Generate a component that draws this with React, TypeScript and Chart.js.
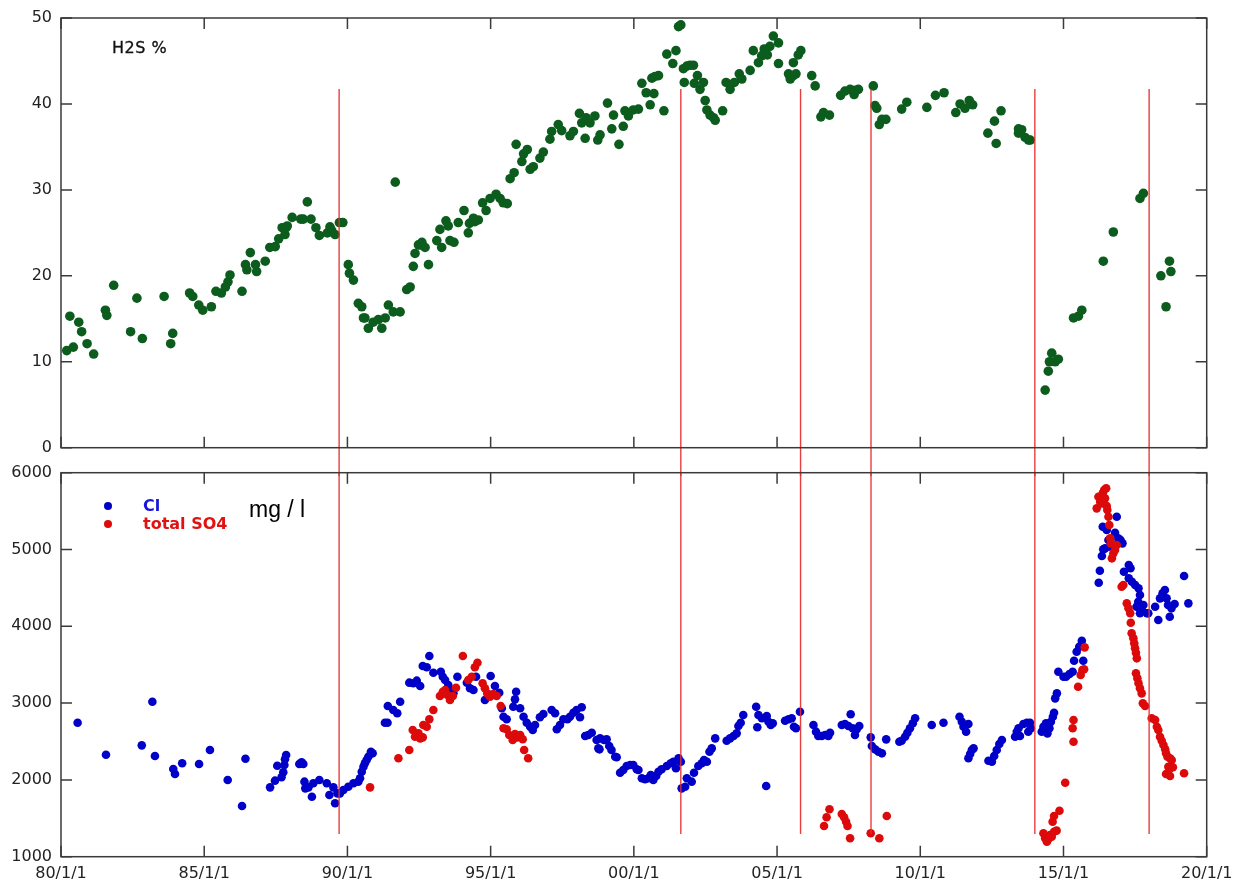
import React, { useEffect, useRef } from 'react';
import { Chart, registerables } from 'chart.js';

Chart.register(...registerables);

// ---------- data ----------
const xTickYears = [1980, 1985, 1990, 1995, 2000, 2005, 2010, 2015, 2020];
const xTickLabels = ['80/1/1', '85/1/1', '90/1/1', '95/1/1', '00/1/1', '05/1/1', '10/1/1', '15/1/1', '20/1/1'];
const h2sTicks = [0, 10, 20, 30, 40, 50];
const ionTicks = [1000, 2000, 3000, 4000, 5000, 6000];

// event dates (red vertical lines)
const eventYears = [1989.71, 2001.64, 2005.82, 2008.28, 2014.0, 2017.99];
const eventTopH2S = 41.75;
const eventGapH2S = -3.3;
const eventTopIon = 6000;
const eventBottomIon = 1295;

// H2S % [year, value]
const h2sPoints: [number, number][] = [
  [1980.2, 11.3], [1980.31, 15.3], [1980.43, 11.7], [1980.62, 14.6], [1980.72, 13.5], [1980.91, 12.1], [1981.14, 10.9],
  [1981.55, 16.0], [1981.6, 15.4], [1981.84, 18.9], [1982.43, 13.5], [1982.65, 17.4], [1982.84, 12.7], [1983.6, 17.6],
  [1983.83, 12.1], [1983.9, 13.3], [1984.49, 18.0], [1984.6, 17.6], [1984.81, 16.6], [1984.95, 16.0], [1985.25, 16.4],
  [1985.41, 18.2], [1985.6, 18.0], [1985.74, 18.7], [1985.83, 19.3], [1985.9, 20.1], [1986.32, 18.2], [1986.44, 21.3],
  [1986.49, 20.7], [1986.61, 22.7], [1986.79, 21.3], [1986.83, 20.5], [1987.13, 21.7], [1987.29, 23.3], [1987.48, 23.4],
  [1987.6, 24.3], [1987.72, 25.6], [1987.82, 24.8], [1987.86, 25.6], [1987.9, 25.8], [1988.07, 26.8], [1988.37, 26.6],
  [1988.46, 26.6], [1988.6, 28.6], [1988.73, 26.6], [1988.9, 25.6], [1989.02, 24.7], [1989.3, 25.0], [1989.39, 25.7],
  [1989.45, 25.3], [1989.57, 24.8], [1989.72, 26.2], [1989.84, 26.2], [1990.03, 21.3], [1990.07, 20.3], [1990.21, 19.5],
  [1990.38, 16.8], [1990.5, 16.4], [1990.56, 15.1], [1990.61, 15.1], [1990.73, 13.9], [1990.9, 14.6], [1991.08, 14.9],
  [1991.2, 13.9], [1991.32, 15.1], [1991.43, 16.6], [1991.6, 15.8], [1991.67, 30.9], [1991.84, 15.8], [1992.07, 18.4],
  [1992.19, 18.7], [1992.3, 21.1], [1992.36, 22.6], [1992.48, 23.6], [1992.54, 23.6], [1992.6, 23.9], [1992.71, 23.3],
  [1992.83, 21.3], [1993.12, 24.1], [1993.23, 25.4], [1993.29, 23.3], [1993.44, 26.4], [1993.52, 25.8], [1993.58, 24.1],
  [1993.72, 23.9], [1993.87, 26.2], [1994.07, 27.6], [1994.22, 25.0], [1994.26, 26.1], [1994.4, 26.7], [1994.45, 26.3],
  [1994.57, 26.5], [1994.72, 28.5], [1994.84, 27.6], [1994.98, 29.0], [1995.19, 29.5], [1995.33, 29.0], [1995.44, 28.5],
  [1995.58, 28.4], [1995.68, 31.3], [1995.82, 32.0], [1995.89, 35.3], [1996.09, 33.3], [1996.15, 34.2], [1996.28, 34.7],
  [1996.38, 32.4], [1996.49, 32.7], [1996.72, 33.7], [1996.84, 34.4], [1997.07, 35.9], [1997.13, 36.8], [1997.36, 37.6],
  [1997.48, 36.9], [1997.77, 36.3], [1997.89, 36.8], [1998.1, 38.9], [1998.18, 37.8], [1998.33, 38.4], [1998.47, 37.8],
  [1998.64, 38.6], [1998.3, 36.0], [1998.74, 35.8], [1998.82, 36.4], [1999.08, 40.1], [1999.29, 38.7], [1999.23, 37.1],
  [1999.48, 35.3], [1999.63, 37.4], [1999.69, 39.2], [1999.81, 38.6], [1999.98, 39.3], [2000.16, 39.4], [2000.28, 42.4],
  [2000.43, 41.3], [2000.57, 39.9], [2000.7, 41.2], [2000.63, 43.0], [2000.74, 43.2], [2000.86, 43.3], [2001.05, 39.2],
  [2001.15, 45.8], [2001.36, 44.7], [2001.47, 46.2], [2001.56, 49.0], [2001.64, 49.2], [2001.73, 44.1], [2001.85, 44.4],
  [2001.96, 44.5], [2002.08, 44.5], [2001.76, 42.5], [2002.11, 42.4], [2002.22, 43.3], [2002.31, 41.7], [2002.43, 42.5],
  [2002.49, 40.4], [2002.55, 39.3], [2002.66, 38.7], [2002.78, 38.4], [2002.84, 38.1], [2003.1, 39.2], [2003.22, 42.5],
  [2003.36, 41.7], [2003.51, 42.5], [2003.68, 43.5], [2003.77, 42.9], [2004.06, 43.9], [2004.17, 46.2], [2004.35, 44.8],
  [2004.46, 45.6], [2004.55, 46.4], [2004.66, 45.7], [2004.75, 46.7], [2004.87, 47.9], [2005.05, 47.1], [2005.05, 44.7],
  [2005.4, 43.5], [2005.46, 42.9], [2005.57, 43.3], [2005.66, 43.5], [2005.57, 44.8], [2005.74, 45.7], [2005.83, 46.2],
  [2006.21, 43.3], [2006.33, 42.1], [2006.53, 38.5], [2006.62, 39.0], [2006.83, 38.7], [2007.22, 41.0], [2007.37, 41.5],
  [2007.55, 41.7], [2007.69, 41.1], [2007.72, 41.6], [2007.84, 41.7], [2008.36, 42.1], [2008.42, 39.8], [2008.48, 39.5],
  [2008.57, 37.6], [2008.66, 38.2], [2008.8, 38.2], [2009.35, 39.4], [2009.53, 40.2], [2010.23, 39.6], [2010.53, 41.0],
  [2010.83, 41.3], [2011.24, 39.0], [2011.39, 40.0], [2011.56, 39.5], [2011.71, 40.4], [2011.83, 39.9], [2012.36, 36.6],
  [2012.59, 38.0], [2012.65, 35.4], [2012.82, 39.2], [2013.43, 37.1], [2013.43, 36.6], [2013.54, 37.0], [2013.66, 36.1],
  [2013.78, 35.8], [2013.84, 35.8], [2014.36, 6.7], [2014.47, 8.9], [2014.51, 10.0], [2014.59, 11.0], [2014.71, 10.0],
  [2014.82, 10.3], [2015.35, 15.1], [2015.52, 15.3], [2015.64, 16.0], [2016.39, 21.7], [2016.74, 25.1], [2017.67, 29.0],
  [2017.79, 29.6], [2018.4, 20.0], [2018.58, 16.4], [2018.7, 21.7], [2018.75, 20.5],
];

// Cl mg/l [year, value]
const clPoints: [number, number][] = [
  [1980.58, 2745], [1981.57, 2328], [1982.82, 2450], [1983.19, 3018], [1983.28, 2311], [1983.92, 2142], [1983.98, 2077],
  [1984.23, 2216], [1984.82, 2207], [1985.2, 2389], [1985.82, 1999], [1986.32, 1660], [1986.44, 2276], [1987.3, 1903],
  [1987.47, 1990], [1987.55, 2185], [1987.7, 2034], [1987.76, 2099], [1987.8, 2194], [1987.82, 2268], [1987.86, 2324],
  [1988.32, 2207], [1988.4, 2229], [1988.46, 2207], [1988.5, 1977], [1988.53, 1890], [1988.64, 1903], [1988.76, 1781],
  [1988.81, 1956], [1989.02, 1999], [1989.28, 1956], [1989.37, 1803], [1989.51, 1903], [1989.57, 1695], [1989.65, 1825],
  [1989.74, 1825], [1989.86, 1868], [1990.03, 1911], [1990.21, 1956], [1990.38, 1977], [1990.44, 2021], [1990.5, 2107],
  [1990.56, 2172], [1990.61, 2216], [1990.67, 2259], [1990.73, 2302], [1990.82, 2367], [1990.88, 2346], [1991.31, 2745],
  [1991.4, 2745], [1991.41, 2962], [1991.6, 2910], [1991.74, 2867], [1991.84, 3018], [1992.16, 3266], [1992.3, 3258],
  [1992.42, 3292], [1992.54, 3223], [1992.63, 3483], [1992.77, 3466], [1992.86, 3613], [1993.0, 3396], [1993.26, 3409],
  [1993.33, 3344], [1993.41, 3301], [1993.52, 3236], [1993.64, 3171], [1993.7, 3127], [1993.84, 3344], [1994.17, 3266],
  [1994.28, 3193], [1994.4, 3171], [1994.49, 3344], [1994.8, 3040], [1995.0, 3353], [1995.15, 3223], [1995.3, 3135],
  [1995.39, 2932], [1995.45, 2823], [1995.56, 2789], [1995.79, 2953], [1995.85, 3049], [1995.89, 3148], [1996.03, 2932],
  [1996.15, 2823], [1996.26, 2745], [1996.38, 2693], [1996.47, 2650], [1996.55, 2715], [1996.72, 2815], [1996.84, 2858],
  [1997.13, 2910], [1997.25, 2867], [1997.31, 2659], [1997.42, 2715], [1997.54, 2789], [1997.68, 2789], [1997.77, 2823],
  [1997.89, 2875], [1998.0, 2910], [1998.12, 2815], [1998.18, 2945], [1998.3, 2572], [1998.41, 2585], [1998.53, 2614],
  [1998.7, 2519], [1998.76, 2411], [1998.8, 2398], [1998.82, 2541], [1998.96, 2519], [1999.05, 2528], [1999.14, 2441],
  [1999.22, 2389], [1999.35, 2302], [1999.4, 2294], [1999.52, 2094], [1999.63, 2129], [1999.75, 2181], [1999.87, 2194],
  [1999.98, 2194], [2000.1, 2138], [2000.16, 2129], [2000.28, 2021], [2000.39, 2008], [2000.51, 2021], [2000.59, 2064],
  [2000.68, 1999], [2000.78, 2051], [2000.86, 2107], [2000.97, 2138], [2001.15, 2181], [2001.29, 2216], [2001.38, 2237],
  [2001.47, 2151], [2001.56, 2281], [2001.64, 2237], [2001.67, 1890], [2001.79, 1911], [2001.85, 2021], [2002.02, 1977],
  [2002.1, 2094], [2002.25, 2181], [2002.37, 2216], [2002.45, 2259], [2002.55, 2237], [2002.64, 2367], [2002.72, 2411],
  [2002.84, 2541], [2003.24, 2510], [2003.36, 2541], [2003.48, 2572], [2003.59, 2606], [2003.65, 2702], [2003.73, 2745],
  [2003.82, 2845], [2004.27, 2953], [2004.35, 2845], [2004.31, 2685], [2004.47, 2802], [2004.64, 2832], [2004.7, 2758],
  [2004.78, 2715], [2004.85, 2737], [2004.62, 1920], [2005.28, 2771], [2005.4, 2789], [2005.51, 2802], [2005.59, 2693],
  [2005.66, 2672], [2005.8, 2888], [2006.27, 2715], [2006.36, 2628], [2006.44, 2572], [2006.56, 2572], [2006.68, 2585],
  [2006.79, 2572], [2006.85, 2614], [2007.26, 2715], [2007.37, 2728], [2007.49, 2702], [2007.57, 2854], [2007.64, 2672],
  [2007.72, 2585], [2007.78, 2659], [2007.87, 2702], [2008.27, 2554], [2008.31, 2441], [2008.42, 2398], [2008.54, 2367],
  [2008.66, 2346], [2008.81, 2528], [2009.27, 2497], [2009.35, 2510], [2009.47, 2562], [2009.55, 2614], [2009.64, 2672],
  [2009.74, 2737], [2009.82, 2802], [2010.4, 2715], [2010.81, 2745], [2011.37, 2823], [2011.45, 2758], [2011.51, 2693],
  [2011.6, 2628], [2011.68, 2728], [2011.68, 2281], [2011.74, 2337], [2011.8, 2389], [2011.86, 2411], [2012.38, 2250],
  [2012.5, 2237], [2012.58, 2311], [2012.67, 2389], [2012.76, 2467], [2012.85, 2519], [2013.31, 2562], [2013.37, 2628],
  [2013.43, 2672], [2013.48, 2572], [2013.6, 2728], [2013.72, 2745], [2013.83, 2745], [2013.77, 2628], [2013.86, 2672],
  [2014.24, 2628], [2014.3, 2693], [2014.39, 2737], [2014.44, 2606], [2014.51, 2672], [2014.56, 2758], [2014.63, 2823],
  [2014.67, 2875], [2014.71, 3062], [2014.77, 3127], [2014.82, 3409], [2015.0, 3344], [2015.09, 3344], [2015.21, 3379],
  [2015.32, 3409], [2015.37, 3552], [2015.46, 3669], [2015.55, 3734], [2015.64, 3812], [2015.69, 3552], [2016.23, 4567],
  [2016.27, 4724], [2016.34, 4915], [2016.39, 5002], [2016.45, 5015], [2016.37, 5297], [2016.51, 5254], [2016.57, 5123],
  [2016.63, 5036], [2016.68, 5071], [2016.8, 5219], [2016.86, 5427], [2016.91, 5145], [2016.99, 5123], [2017.06, 5080],
  [2017.11, 4711], [2017.28, 4798], [2017.34, 4755], [2017.28, 4625], [2017.39, 4581], [2017.5, 4538], [2017.62, 4495],
  [2017.67, 4407], [2017.55, 4255], [2017.61, 4320], [2017.67, 4169], [2017.73, 4221], [2017.79, 4277], [2017.91, 4169],
  [2017.96, 4169], [2018.2, 4255], [2018.31, 4082], [2018.37, 4364], [2018.46, 4429], [2018.54, 4473], [2018.6, 4364],
  [2018.65, 4277], [2018.71, 4125], [2018.77, 4234], [2018.88, 4290], [2019.21, 4655], [2019.36, 4299],
];

// total SO4 mg/l [year, value]
const so4Points: [number, number][] = [
  [1990.79, 1903], [1991.78, 2281], [1992.16, 2389], [1992.28, 2650], [1992.36, 2562], [1992.48, 2606], [1992.54, 2541],
  [1992.63, 2554], [1992.65, 2715], [1992.77, 2693], [1992.86, 2789], [1993.0, 2910], [1993.23, 3092], [1993.33, 3148],
  [1993.41, 3171], [1993.49, 3106], [1993.58, 3040], [1993.68, 3092], [1993.79, 3200], [1994.03, 3613], [1994.22, 3301],
  [1994.34, 3344], [1994.45, 3466], [1994.54, 3526], [1994.72, 3258], [1994.8, 3193], [1994.88, 3127], [1994.98, 3083],
  [1995.09, 3118], [1995.21, 3092], [1995.35, 2962], [1995.45, 2672], [1995.56, 2659], [1995.65, 2585], [1995.77, 2519],
  [1995.85, 2598], [1995.93, 2554], [1996.03, 2585], [1996.12, 2529], [1996.17, 2389], [1996.31, 2281], [2006.64, 1400],
  [2006.73, 1513], [2006.83, 1617], [2007.26, 1556], [2007.34, 1513], [2007.41, 1456], [2007.46, 1400], [2007.55, 1240],
  [2008.27, 1305], [2008.57, 1240], [2008.83, 1530], [2014.3, 1305], [2014.36, 1240], [2014.42, 1195], [2014.47, 1227],
  [2014.53, 1283], [2014.59, 1260], [2014.67, 1325], [2014.76, 1339], [2014.62, 1456], [2014.67, 1530], [2014.86, 1599],
  [2015.06, 1963], [2015.35, 2497], [2015.32, 2672], [2015.35, 2780], [2015.51, 3213], [2015.6, 3366], [2015.66, 3431],
  [2015.72, 3440], [2015.74, 3726], [2016.16, 5536], [2016.22, 5687], [2016.28, 5622], [2016.34, 5601], [2016.37, 5731],
  [2016.42, 5775], [2016.49, 5797], [2016.45, 5666], [2016.51, 5566], [2016.53, 5514], [2016.57, 5427], [2016.6, 5319],
  [2016.63, 5146], [2016.65, 5080], [2016.69, 4885], [2016.74, 4950], [2016.8, 4993], [2016.86, 5058], [2017.03, 4516],
  [2017.09, 4538], [2017.21, 4299], [2017.27, 4234], [2017.33, 4169], [2017.35, 4047], [2017.38, 3909], [2017.44, 3844],
  [2017.47, 3778], [2017.5, 3713], [2017.53, 3656], [2017.56, 3583], [2017.53, 3388], [2017.58, 3323], [2017.62, 3258],
  [2017.67, 3193], [2017.73, 3127], [2017.77, 2997], [2017.85, 2962], [2018.08, 2802], [2018.2, 2780], [2018.26, 2693],
  [2018.31, 2650], [2018.37, 2562], [2018.43, 2510], [2018.49, 2454], [2018.55, 2398], [2018.58, 2346], [2018.63, 2302],
  [2018.72, 2281], [2018.78, 2259], [2018.66, 2172], [2018.72, 2151], [2018.82, 2164], [2018.58, 2077], [2018.72, 2051],
  [2019.21, 2086],
];

// ---------- styling ----------
const GREEN = '#0b5c1d';
const BLUE = '#0000c8';
const RED = '#dc0a0a';
const EVENT_RED = 'rgba(232,45,45,0.92)';
const FRAME = '#3a3a3a';
const TICK_FONT = { family: 'DejaVu Sans', size: 16 };
const TICK_COLOR = '#222';

const toXY = (pts: [number, number][]) => pts.map(([x, y]) => ({ x, y }));

const framePlugin = {
  id: 'frame',
  afterDraw(chart: any, _args: any, opts: any) {
    const { ctx, chartArea: a, scales } = chart;
    const len = 11;
    ctx.save();
    ctx.strokeStyle = FRAME;
    ctx.lineWidth = 1.5;
    ctx.strokeRect(a.left, a.top, a.right - a.left, a.bottom - a.top);
    ctx.beginPath();
    for (const v of xTickYears) {
      const px = scales.x.getPixelForValue(v);
      ctx.moveTo(px, a.top);
      ctx.lineTo(px, a.top + len);
      ctx.moveTo(px, a.bottom);
      ctx.lineTo(px, a.bottom - len);
    }
    for (const v of opts.yTicks as number[]) {
      const py = scales.y.getPixelForValue(v);
      ctx.moveTo(a.left, py);
      ctx.lineTo(a.left + len, py);
      ctx.moveTo(a.right, py);
      ctx.lineTo(a.right - len, py);
    }
    ctx.stroke();
    ctx.restore();
  },
};

const eventDatasets = (top: number, bottom: number) =>
  eventYears.map((yr) => ({
    type: 'line' as const,
    data: [{ x: yr, y: top }, { x: yr, y: bottom }],
    borderColor: EVENT_RED,
    borderWidth: 1.4,
    pointRadius: 0,
    showLine: true,
    fill: false,
    clip: false as any,
    order: 0,
  }));

const pointSet = (pts: [number, number][], color: string, r: number, order: number) => ({
  type: 'scatter' as const,
  data: toXY(pts),
  backgroundColor: color,
  borderColor: color,
  pointRadius: r,
  pointBorderWidth: 0,
  pointHoverRadius: r,
  showLine: false,
  order,
});

const zeroPad = (s: any) => {
  s.paddingLeft = 0;
  s.paddingRight = 0;
  s.paddingTop = 0;
  s.paddingBottom = 0;
};

export default function App() {
  const topRef = useRef<HTMLCanvasElement>(null);
  const botRef = useRef<HTMLCanvasElement>(null);

  useEffect(() => {
    const top = new Chart(topRef.current as HTMLCanvasElement, {
      type: 'scatter',
      data: {
        datasets: [
          ...eventDatasets(eventTopH2S, eventGapH2S),
          pointSet(h2sPoints, GREEN, 4.8, 2),
        ] as any,
      },
      options: {
        animation: false,
        responsive: false,
        devicePixelRatio: 1,
        events: [],
        layout: { padding: { left: 0, top: 18, right: 27.3, bottom: 32.3 } },
        plugins: {
          legend: { display: false },
          tooltip: { enabled: false },
          frame: { yTicks: h2sTicks },
        } as any,
        scales: {
          x: { type: 'linear', min: 1980, max: 2020, display: false },
          y: {
            type: 'linear',
            min: 0,
            max: 50,
            afterBuildTicks: (s: any) => { s.ticks = h2sTicks.map((v) => ({ value: v })); },
            ticks: { padding: 9, color: TICK_COLOR, font: TICK_FONT, callback: (v: any) => String(v) },
            grid: { display: false, drawTicks: false },
            border: { display: false },
            afterFit: (s: any) => { s.width = 61; zeroPad(s); },
          },
        },
      },
      plugins: [framePlugin],
    });

    const bot = new Chart(botRef.current as HTMLCanvasElement, {
      type: 'scatter',
      data: {
        datasets: [
          ...eventDatasets(eventTopIon, eventBottomIon),
          pointSet(so4Points, RED, 4.3, 1),
          pointSet(clPoints, BLUE, 4.3, 2),
        ] as any,
      },
      options: {
        animation: false,
        responsive: false,
        devicePixelRatio: 1,
        events: [],
        layout: { padding: { left: 0, top: 12.7, right: 27.3, bottom: 0 } },
        plugins: {
          legend: { display: false },
          tooltip: { enabled: false },
          frame: { yTicks: ionTicks },
        } as any,
        scales: {
          x: {
            type: 'linear',
            min: 1980,
            max: 2020,
            afterBuildTicks: (s: any) => { s.ticks = xTickYears.map((v) => ({ value: v })); },
            ticks: {
              padding: 8,
              color: TICK_COLOR,
              font: { family: 'DejaVu Sans', size: 16 },
              maxRotation: 0,
              autoSkip: false,
              callback: (v: any) => xTickLabels[xTickYears.indexOf(Number(v))] ?? '',
            },
            grid: { display: false, drawTicks: false },
            border: { display: false },
            afterFit: (s: any) => { s.height = 26.3; zeroPad(s); },
          },
          y: {
            type: 'linear',
            min: 1000,
            max: 6000,
            afterBuildTicks: (s: any) => { s.ticks = ionTicks.map((v) => ({ value: v })); },
            ticks: { padding: 9, color: TICK_COLOR, font: TICK_FONT, callback: (v: any) => String(v) },
            grid: { display: false, drawTicks: false },
            border: { display: false },
            afterFit: (s: any) => { s.width = 61; zeroPad(s); },
          },
        },
      },
      plugins: [framePlugin],
    });

    return () => {
      top.destroy();
      bot.destroy();
    };
  }, []);

  const centerText = (left: number, cy: number, style: React.CSSProperties, text: string) => (
    <div
      style={{
        position: 'absolute',
        left,
        top: cy,
        transform: 'translateY(-50%)',
        lineHeight: 1,
        whiteSpace: 'nowrap',
        ...style,
      }}
    >
      {text}
    </div>
  );

  const dot = (cx: number, cy: number, color: string) => (
    <div
      style={{
        position: 'absolute',
        left: cx - 4,
        top: cy - 4,
        width: 8,
        height: 8,
        borderRadius: '50%',
        background: color,
      }}
    />
  );

  return (
    <div
      style={{
        position: 'fixed',
        left: 0,
        top: 0,
        width: 1234,
        height: 883,
        background: '#fff',
        overflow: 'hidden',
      }}
    >
      <canvas ref={topRef} width={1234} height={480} style={{ position: 'absolute', left: 0, top: 0 }} />
      <canvas ref={botRef} width={1234} height={423} style={{ position: 'absolute', left: 0, top: 460 }} />
      {centerText(112, 48, { fontFamily: 'DejaVu Sans', fontSize: 16, color: '#111', letterSpacing: 0.5, WebkitTextStroke: '0.3px #111' }, 'H2S %')}
      {dot(108, 506, BLUE)}
      {centerText(143, 506, { fontFamily: 'DejaVu Sans', fontSize: 16, fontWeight: 'bold', color: '#1616d8' }, 'Cl')}
      {dot(108, 524, RED)}
      {centerText(143, 524, { fontFamily: 'DejaVu Sans', fontSize: 16, fontWeight: 'bold', color: '#e01212' }, 'total SO4')}
      {centerText(249, 509, { fontFamily: 'Liberation Sans', fontSize: 23, color: '#000' }, 'mg / l')}
    </div>
  );
}
